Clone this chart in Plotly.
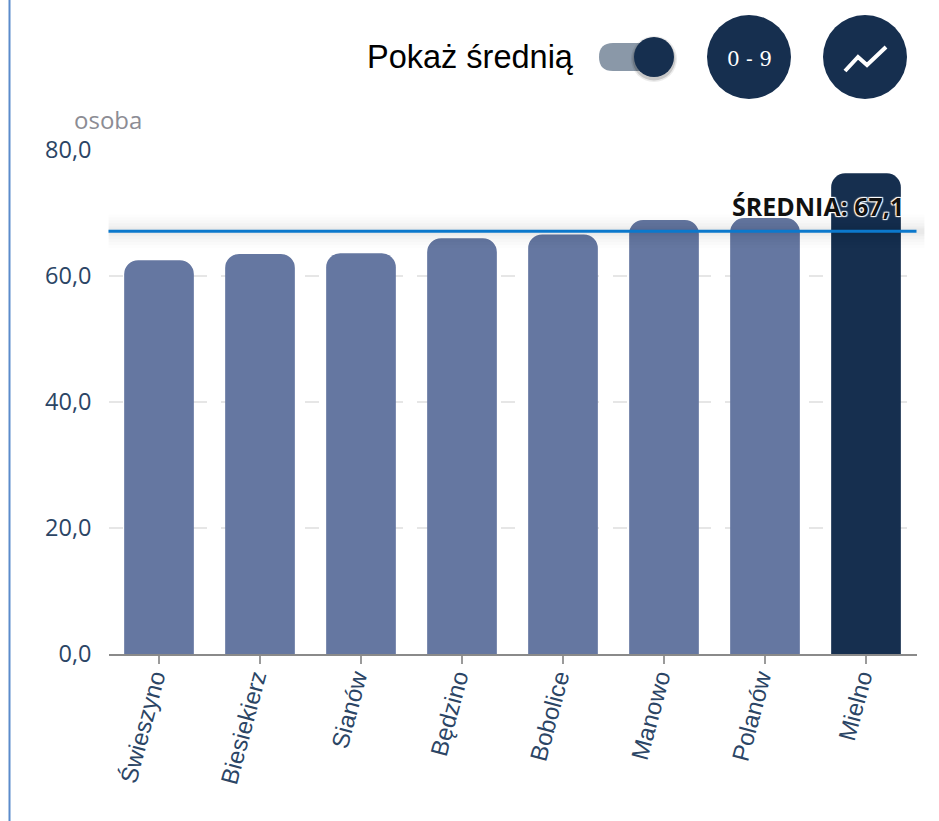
import plotly.graph_objects as go

W, H = 939, 821
categories = ["Świeszyno", "Biesiekierz", "Sianów", "Będzino", "Bobolice", "Manowo", "Polanów", "Mielno"]
values = [62.5, 63.5, 63.6, 66.0, 66.6, 68.9, 69.2, 76.3]
mean_value = 67.1
bar_colors = ["#6577A1"] * 7 + ["#162F4F"]
y_ticks = [0, 20, 40, 60, 80]
y_tick_labels = ["0,0", "20,0", "40,0", "60,0", "80,0"]

NAVY = "#162F4F"
px = lambda x: x / W
py = lambda y: 1 - y / H

fig = go.Figure(go.Bar(x=categories, y=values, marker=dict(color=bar_colors, line=dict(width=0)),
                       hoverinfo="skip"))

shapes = []
# soft shadow of the mean line
for width, alpha in [(34, 0.008), (28, 0.01), (22, 0.012), (16, 0.014), (10, 0.018), (6, 0.02)]:
    shapes.append(dict(type="line", xref="x domain", yref="y", x0=0, x1=1.01, y0=mean_value, y1=mean_value,
                       line=dict(color=f"rgba(0,0,0,{alpha})", width=width), layer="above"))
shapes.append(dict(type="line", xref="x domain", yref="y", x0=0, x1=1, y0=mean_value, y1=mean_value,
                   line=dict(color="#0B78CC", width=3), layer="above"))
# left page border
shapes.append(dict(type="line", xref="paper", yref="paper", x0=px(9.5), x1=px(9.5), y0=0, y1=1,
                   line=dict(color="#5B8BCB", width=2)))
# toggle track, knob shadow, knob
shapes.append(dict(type="path", xref="paper", yref="paper",
                   path=f"M{px(613)},{py(43)} L{px(650)},{py(43)} L{px(650)},{py(71)} L{px(613)},{py(71)} "
                        f"Q{px(599)},{py(71)} {px(599)},{py(57)} Q{px(599)},{py(43)} {px(613)},{py(43)} Z",
                   fillcolor="#8A98A8", line=dict(width=0)))
for grow, alpha in [(3, 0.08), (1.5, 0.15)]:
    shapes.append(dict(type="circle", xref="paper", yref="paper", x0=px(634 - grow), x1=px(674 + grow),
                       y0=py(79 + grow), y1=py(39 - grow), fillcolor=f"rgba(0,0,0,{alpha})", line=dict(width=0)))
shapes.append(dict(type="circle", xref="paper", yref="paper", x0=px(634), x1=px(674), y0=py(77), y1=py(37),
                   fillcolor=NAVY, line=dict(width=0)))
# round buttons
for cx in (749, 865):
    shapes.append(dict(type="circle", xref="paper", yref="paper", x0=px(cx - 42), x1=px(cx + 42),
                       y0=py(99), y1=py(15), fillcolor=NAVY, line=dict(width=0)))
# trend icon
icon = [(845, 71), (858, 57), (867, 65), (886, 47)]
shapes.append(dict(type="path", xref="paper", yref="paper",
                   path="M" + " L".join(f"{px(a)},{py(b)}" for a, b in icon),
                   line=dict(color="white", width=4)))

halo = ",".join(f"{a}px {b}px 1px #fff" for a in (-1, 1) for b in (-1, 1))
annotations = [
    dict(text="osoba", xref="paper", yref="paper", x=px(72), y=py(120), xanchor="left", yanchor="middle",
         showarrow=False, font=dict(family="Open Sans", size=24, color="#8C8C94")),
    dict(text=f"ŚREDNIA: {mean_value:.1f}".replace(".", ","), xref="paper", yref="paper", x=px(906), y=py(206),
         xanchor="right", yanchor="middle", showarrow=False,
         font=dict(family="Open Sans", size=25, color="#111111", weight="bold", shadow=halo)),
    dict(text="Pokaż średnią", xref="paper", yref="paper", x=px(365), y=py(57), xanchor="left", yanchor="middle",
         showarrow=False, font=dict(family="Liberation Sans", size=32.5, color="#000000")),
    dict(text="0 - 9", xref="paper", yref="paper", x=px(749), y=py(59), xanchor="center", yanchor="middle",
         showarrow=False, font=dict(family="DejaVu Serif", size=20, color="white")),
]

fig.update_layout(
    width=W, height=H, autosize=False, margin=dict(l=0, r=0, t=0, b=0, autoexpand=False),
    paper_bgcolor="white", plot_bgcolor="white", showlegend=False, bargap=0.31, barcornerradius=14,
    shapes=shapes, annotations=annotations,
    xaxis=dict(domain=[px(108.5), px(916.5)], type="category", showgrid=False, showline=True, linecolor="#8A8A8A",
               linewidth=2, ticks="outside", ticklen=8, tickwidth=2, tickcolor="#9A9A9A", tickangle=-75,
               automargin=False, ticklabelstandoff=-10, ticklabelshift=-5,
               tickfont=dict(family="Liberation Sans", size=24, color="#2B4565")),
    yaxis=dict(domain=[py(654), py(150)], range=[0, 80], tickvals=y_ticks, ticktext=y_tick_labels,
               showgrid=True, gridcolor="#E6E6E6", griddash="14px,14px", gridwidth=2, zeroline=False,
               showline=False, ticks="", ticklabelstandoff=16, automargin=False,
               tickfont=dict(family="Open Sans", size=23.5, color="#2B4565")),
)
fig.write_html("out.html", post_script="document.body.style.margin='0';document.body.style.overflow='hidden';",
               config=dict(displayModeBar=False))
